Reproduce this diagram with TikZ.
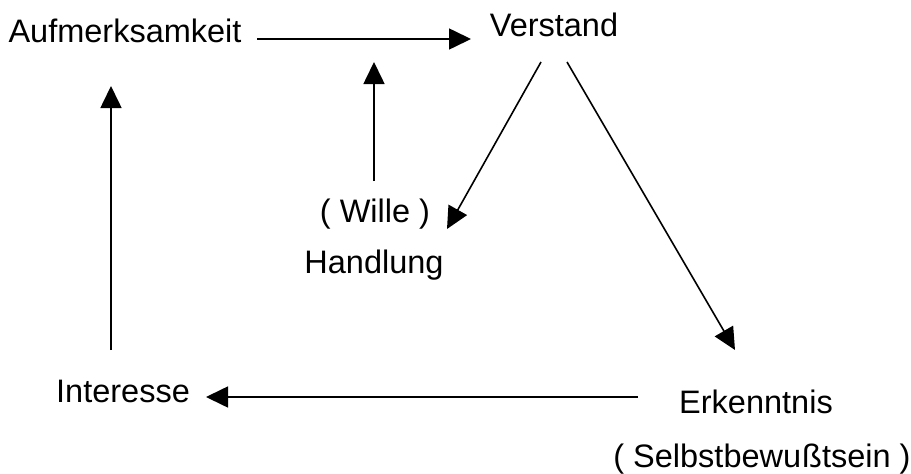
\documentclass[tikz,border=0pt]{standalone}
\usepackage{fontspec}
\setmainfont{Liberation Sans}
\usetikzlibrary{arrows.meta}
\begin{document}
\begin{tikzpicture}[x=1pt,y=-1pt,
  lbl/.style={anchor=base,inner sep=0pt,font=\fontsize{32.5}{38}\selectfont},
  arr/.style={line width=1.6pt,-{Triangle[length=22pt,width=21pt]}}]
\useasboundingbox (0,0) rectangle (911,474);
\node[lbl] (auf) at (125,42) {Aufmerksamkeit};
\node[lbl] (ver) at (554,36) {Verstand};
\node[lbl] (wil) at (375,222) {( Wille )};
\node[lbl] (han) at (374,273) {Handlung};
\node[lbl] (int) at (123,402) {Interesse};
\node[lbl] (erk) at (756,413) {Erkenntnis};
\node[lbl] (sel) at (762,467) {( Selbstbewu\kern1ptßtsein )};
\coordinate (a1) at (257,39); \coordinate (a2) at (471,39);
\coordinate (b1) at (374,181); \coordinate (b2) at (374,62);
\coordinate (c1) at (111,350); \coordinate (c2) at (111,86);
\coordinate (d1) at (541,62); \coordinate (d2) at (447,229);
\coordinate (e1) at (567,62); \coordinate (e2) at (735,350);
\coordinate (f1) at (638,397); \coordinate (f2) at (206,397);
\draw[arr] (a1) -- (a2);
\draw[arr] (b1) -- (b2);
\draw[arr] (c1) -- (c2);
\draw[arr] (d1) -- (d2);
\draw[arr] (e1) -- (e2);
\draw[arr] (f1) -- (f2);
\end{tikzpicture}
\end{document}
